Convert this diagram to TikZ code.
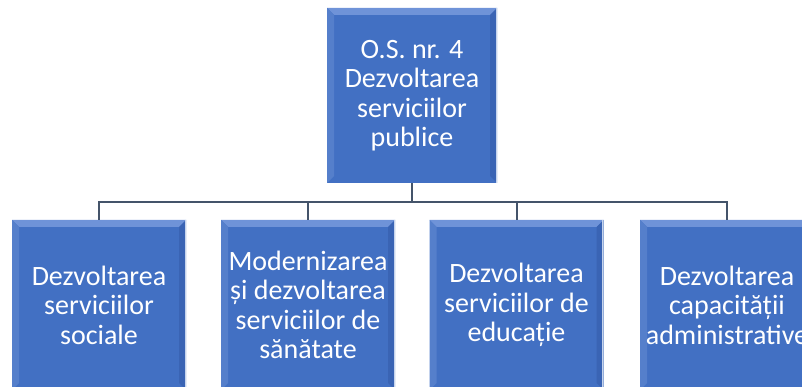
\documentclass[tikz,border=0pt]{standalone}
\usepackage{fontspec}
\setmainfont{Carlito}
\definecolor{boxblue}{HTML}{4270C3}
\definecolor{bevellight}{HTML}{6F93D8}
\definecolor{beveldark}{HTML}{3A64B4}
\definecolor{bevelleft}{HTML}{557FCB}
\definecolor{linecol}{HTML}{44546A}
\begin{document}
\begin{tikzpicture}[x=1pt,y=-1pt,
  orgbox/.style={draw=none, fill=boxblue, minimum width=174pt, inner sep=0pt,
    text=white, font=\fontsize{28}{29.5}\selectfont, align=center,
    path picture={
      \fill[bevellight] (path picture bounding box.north west) -- (path picture bounding box.north east)
        -- ([xshift=-7pt,yshift=-7pt]path picture bounding box.north east) -- ([xshift=7pt,yshift=-7pt]path picture bounding box.north west) -- cycle;
      \fill[beveldark] (path picture bounding box.north east) -- (path picture bounding box.south east)
        -- ([xshift=-7pt,yshift=7pt]path picture bounding box.south east) -- ([xshift=-7pt,yshift=-7pt]path picture bounding box.north east) -- cycle;
      \fill[bevelleft] (path picture bounding box.north west) -- (path picture bounding box.south west)
        -- ([xshift=7pt,yshift=7pt]path picture bounding box.south west) -- ([xshift=7pt,yshift=-7pt]path picture bounding box.north west) -- cycle;
      \draw[white!70!boxblue, line width=1.2pt] ([xshift=-0.6pt]path picture bounding box.north east) -- ([xshift=-0.6pt]path picture bounding box.south east);
    }},
  conn/.style={draw=linecol, line width=2pt}]
\useasboundingbox (0,0) rectangle (802,387);
\clip (0,0) rectangle (802,387);
\node[orgbox, minimum width=170pt, minimum height=175pt] (top) at (412,95.5) {O.S. nr. 4\\Dezvoltarea\\serviciilor\\publice};
\node[orgbox, minimum height=170pt] (b1) at (99,305) {Dezvoltarea\\serviciilor\\sociale};
\node[orgbox, minimum height=170pt] (b2) at (308,305) {Modernizarea\\și dezvoltarea\\serviciilor de\\sănătate};
\node[orgbox, minimum height=170pt] (b3) at (516.5,305) {Dezvoltarea\\serviciilor de\\educație};
\node[orgbox, minimum height=170pt] (b4) at (727,305) {Dezvoltarea\\capacității\\administrative};
\coordinate (bus) at (412,202);
\draw[conn] (top.south) -- (bus);
\draw[conn] (b1.north) -- (b1.north |- bus) -- (b4.north |- bus) -- (b4.north);
\draw[conn] (b2.north) -- (b2.north |- bus);
\draw[conn] (b3.north) -- (b3.north |- bus);
\end{tikzpicture}
\end{document}
